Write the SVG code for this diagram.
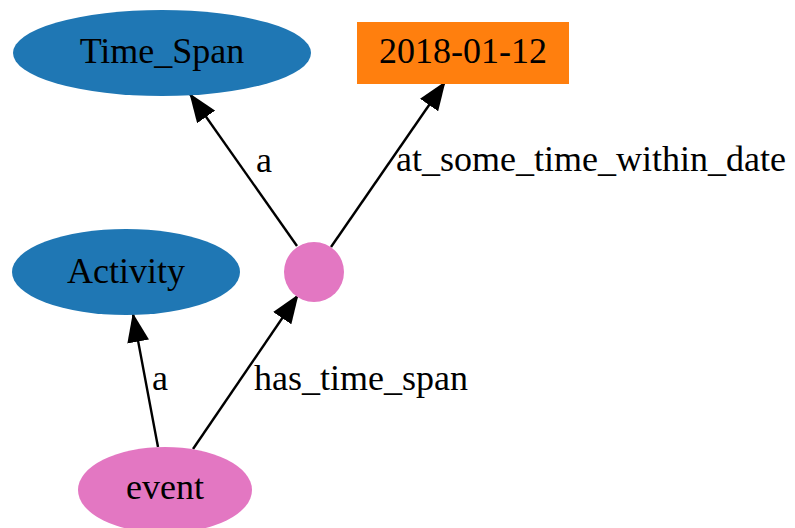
<svg xmlns="http://www.w3.org/2000/svg" width="795" height="528" viewBox="0 0 795 528">
  <style>
    text { font-family: "Liberation Serif", "Times New Roman", serif; font-size: 36px; fill: #000; }
    .center { text-anchor: middle; }
    .edge { stroke: #000; stroke-width: 2.4; fill: none; marker-end: url(#arrow); }
    .cls { fill: #1f77b4; }
    .lit { fill: #ff7f0e; }
    .inst { fill: #e377c2; }
  </style>
  <defs>
    <marker id="arrow" markerUnits="userSpaceOnUse" markerWidth="30" markerHeight="22" refX="28" refY="11" orient="auto" viewBox="0 0 30 22">
      <path d="M0,0 L29,11 L0,22 z" fill="#000"/>
    </marker>
  </defs>
  <rect width="795" height="528" fill="#fff"/>

  <g id="edges">
    <line class="edge" x1="158" y1="447" x2="133" y2="314"/>
    <line class="edge" x1="193" y1="449" x2="298" y2="295"/>
    <line class="edge" x1="297" y1="246" x2="190" y2="94"/>
    <line class="edge" x1="331" y1="247" x2="445" y2="82"/>
    <text x="152" y="390">a</text>
    <text x="254" y="390">has_time_span</text>
    <text x="256" y="172">a</text>
    <text x="396" y="171">at_some_time_within_date</text>
  </g>

  <g id="time_span">
    <ellipse class="cls" cx="162" cy="53" rx="149" ry="43"/>
    <text class="center" x="162" y="63">Time_Span</text>
  </g>

  <g id="date">
    <rect class="lit" x="357" y="22" width="212" height="62"/>
    <text class="center" x="463" y="63">2018-01-12</text>
  </g>

  <g id="span_node">
    <circle class="inst" cx="314" cy="272" r="30"/>
  </g>

  <g id="activity">
    <ellipse class="cls" cx="126" cy="272" rx="114" ry="43"/>
    <text class="center" x="126" y="283">Activity</text>
  </g>

  <g id="event">
    <ellipse class="inst" cx="165" cy="490" rx="87" ry="43"/>
    <text class="center" x="165" y="499">event</text>
  </g>
</svg>
